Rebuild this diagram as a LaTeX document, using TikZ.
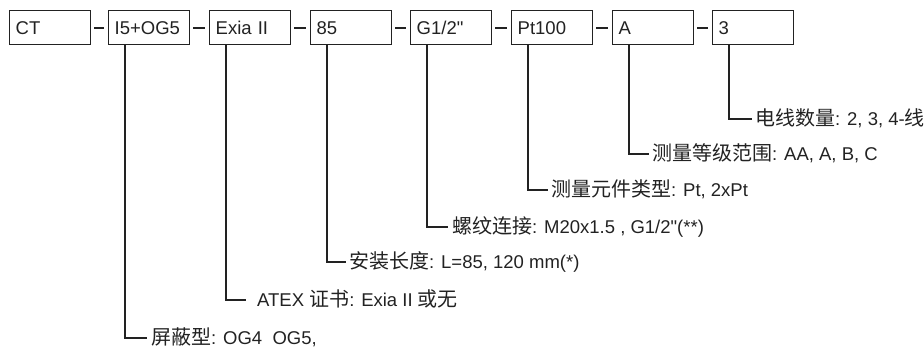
\documentclass[tikz,border=0pt]{standalone}
\usepackage{fontspec}
\setmainfont{Liberation Sans}[Ligatures=TeXOff]
\newfontfamily\cjkfont{Noto Sans CJK SC}
\newcommand{\zh}[1]{{\cjkfont\fontsize{20pt}{23pt}\selectfont #1}}
\definecolor{ink}{HTML}{222222}
\begin{document}
\begin{tikzpicture}[x=1pt,y=-1pt,
  codebox/.style={draw=ink, line width=1.4pt, anchor=north west, inner xsep=6pt, inner ysep=0pt,
    text width=69pt, minimum height=34pt, align=left, text height=13pt, text depth=0pt,
    font=\fontsize{18.5pt}{21pt}\selectfont, text=ink},
  desc/.style={anchor=west, inner sep=0pt, text height=13.5pt, text depth=0pt,
    font=\fontsize{18.5pt}{21pt}\selectfont, text=ink},
  dashlink/.style={draw=ink, line width=1.9pt, shorten <=3pt, shorten >=4pt},
  leader/.style={draw=ink, line width=1.9pt}]
\useasboundingbox (0,0) rectangle (924,351);
\node[codebox] (b1) at (9,10) {CT};
\node[codebox] (b2) at (108,10) {I5+OG5};
\node[codebox] (b3) at (209,10) {Exia II};
\node[codebox] (b4) at (310,10) {85};
\node[codebox] (b5) at (410,10) {G1/2"};
\node[codebox] (b6) at (511,10) {Pt100};
\node[codebox] (b7) at (612,10) {A};
\node[codebox] (b8) at (712,10) {3};
\foreach \a/\b in {b1/b2,b2/b3,b3/b4,b4/b5,b5/b6,b6/b7,b7/b8}
  \draw[dashlink] (\a.east) -- (\b.west);
\node[desc] (t8) at (755,119) {\zh{电线数量}: 2, 3, 4-\zh{线}};
\node[desc] (t7) at (652,154) {\zh{测量等级范围}: AA, A, B, C};
\node[desc] (t6) at (551,190) {\zh{测量元件类型}: Pt, 2xPt};
\node[desc] (t5) at (452,227) {\zh{螺纹连接}: M20x1.5 , G1/2"(**)};
\node[desc] (t4) at (349,262) {\zh{安装长度}: L=85, 120 mm(*)};
\node[desc] (t3) at (257,300) {ATEX \zh{证书}: Exia II \zh{或无}};
\node[desc] (t2) at (151,338) {\zh{屏蔽型}: OG4\ \ OG5,};
\foreach \n/\g in {2/4,3/11,4/3,5/4,6/3,7/3,8/3}
  \draw[leader, shorten >=\g pt] ([xshift=17pt]b\n.south west) |- (t\n.west);
\end{tikzpicture}
\end{document}
